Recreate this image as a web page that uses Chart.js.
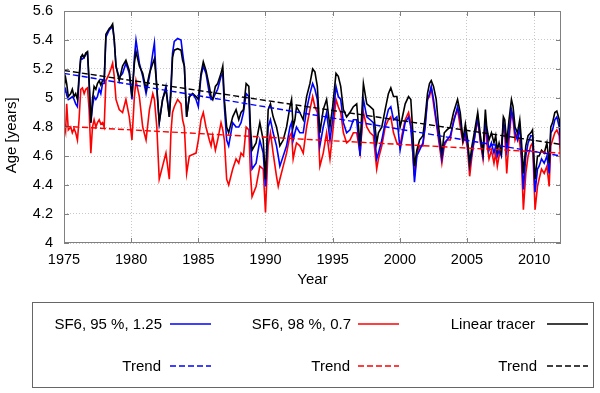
<!DOCTYPE html>
<html>
<head>
<meta charset="utf-8">
<title>Age trends</title>
<script src="https://cdn.jsdelivr.net/npm/chart.js@4"></script>
<style>
  html, body { margin: 0; padding: 0; background: #fff; }
  #wrap { position: relative; width: 600px; height: 393px; }
  #legend { position: absolute; left: 0; top: 0; pointer-events: none; }
  #legend text { font-family: "Liberation Sans", Arial, sans-serif; font-size: 15px; fill: #000; }
</style>
</head>
<body>
<div id="wrap">
  <canvas id="age-chart" width="600" height="393"></canvas>
  <svg id="legend" width="600" height="393">
    <rect x="32.5" y="302.5" width="561" height="85" fill="none" stroke="#666" stroke-width="1"/>
    <text x="162" y="329" text-anchor="end">SF6, 95 %, 1.25</text>
    <line x1="170" y1="324" x2="211" y2="324" stroke="#0000ff" stroke-width="1.5"/>
    <text x="351" y="329" text-anchor="end">SF6, 98 %, 0.7</text>
    <line x1="358" y1="324" x2="399" y2="324" stroke="#ff0000" stroke-width="1.5"/>
    <text x="535" y="329" text-anchor="end">Linear tracer</text>
    <line x1="547" y1="324" x2="588" y2="324" stroke="#000000" stroke-width="1.5"/>
    <text x="161" y="371" text-anchor="end">Trend</text>
    <line x1="170" y1="366" x2="211" y2="366" stroke="#0000ff" stroke-width="1.5" stroke-dasharray="6,3"/>
    <text x="350" y="371" text-anchor="end">Trend</text>
    <line x1="358" y1="366" x2="399" y2="366" stroke="#ff0000" stroke-width="1.5" stroke-dasharray="6,3"/>
    <text x="537" y="371" text-anchor="end">Trend</text>
    <line x1="547" y1="366" x2="588" y2="366" stroke="#000000" stroke-width="1.5" stroke-dasharray="6,3"/>
  </svg>
</div>
<script>
// sample times (years)
const years = [
  1975.00,1975.12,1975.20,1975.32,1975.50,1975.62,1975.75,1975.87,1976.00,1976.12,
  1976.25,1976.37,1976.50,1976.62,1976.75,1976.87,1977.00,1977.12,1977.24,1977.37,
  1977.49,1977.62,1977.74,1977.87,1977.99,1978.12,1978.37,1978.49,1978.62,1978.74,
  1978.87,1979.11,1979.36,1979.61,1979.86,1980.06,1980.24,1980.36,1980.61,1980.86,
  1981.11,1981.36,1981.61,1981.73,1981.91,
  1982.09,1982.34,1982.59,1982.84,1982.96,1983.08,1983.21,1983.46,1983.71,1983.83,
  1983.96,1984.13,1984.33,1984.58,1984.83,1985.00,1985.20,1985.37,1985.57,1985.82,
  1985.95,1986.07,1986.27,1986.44,1986.69,1986.82,1986.94,1987.11,1987.26,1987.56,
  1987.81,1988.01,1988.18,1988.36,1988.56,1988.76,1988.88,1989.00,1989.30,
  1989.58,1989.83,1990.00,1990.20,1990.37,1990.57,1990.82,1990.95,1991.07,1991.32,
  1991.57,1991.82,1991.94,1992.06,1992.19,1992.31,1992.56,1992.81,1993.06,1993.31,
  1993.51,1993.68,1993.86,1994.05,1994.30,1994.55,1994.80,1995.00,1995.25,1995.42,
  1995.60,1995.80,1996.04,1996.29,1996.54,1996.79,1997.04,1997.29,1997.54,1997.79,
  1998.03,1998.28,
  1998.41,1998.66,1998.91,1999.15,1999.33,1999.53,1999.78,1999.90,2000.02,2000.15,
  2000.40,2000.65,2000.82,2000.97,2001.09,2001.27,2001.47,2001.72,2001.89,2002.06,
  2002.21,2002.34,2002.51,2002.71,2002.89,2003.13,2003.31,2003.51,2003.76,2004.00,
  2004.30,2004.50,2004.70,2004.88,2005.05,2005.20,2005.37,2005.62,2005.80,2006.00,
  2006.19,2006.37,
  2006.47,2006.64,2006.82,2007.01,2007.14,2007.26,2007.39,2007.56,2007.71,2007.81,
  2007.96,2008.13,2008.31,2008.43,2008.58,2008.76,2008.93,2009.05,2009.20,2009.38,
  2009.55,2009.75,2009.88,2010.07,2010.25,2010.37,2010.55,2010.75,2010.95,2011.12,
  2011.24,2011.37,2011.54,2011.69,2011.87,2011.99
];

// Linear tracer (black)
const linearTracer = [
  5.07,5.14,5.10,5.01,5.03,5.06,5.01,5.03,4.99,5.15,
  5.28,5.30,5.28,5.31,5.32,5.12,4.83,4.99,5.08,5.06,
  5.10,5.12,5.09,5.12,5.12,5.44,5.48,5.49,5.51,5.40,
  5.22,5.12,5.22,5.26,5.19,5.01,5.24,5.32,5.22,5.17,
  5.06,5.17,5.24,5.27,5.08,
  4.83,4.99,5.06,4.87,5.03,5.28,5.33,5.34,5.33,5.26,
  5.22,4.87,5.01,5.03,5.01,4.99,5.17,5.25,5.19,5.08,
  5.01,4.99,5.08,5.10,5.17,5.22,4.99,4.80,4.76,4.87,
  4.92,4.85,4.90,4.92,5.10,5.08,4.80,4.64,4.69,
  4.83,4.71,4.44,4.92,4.96,4.87,4.80,4.74,4.67,4.71,
  4.80,4.94,4.99,4.80,4.85,4.94,4.90,4.85,5.01,5.10,
  5.20,5.18,5.08,4.76,4.92,4.99,4.80,4.94,5.17,5.15,
  5.08,4.92,4.87,4.90,4.94,4.96,4.67,5.10,4.96,4.94,
  4.92,4.69,
  4.76,4.80,4.92,5.03,5.07,5.01,5.01,4.92,4.80,4.85,
  4.96,5.01,4.99,4.76,4.53,4.64,4.71,4.74,4.87,5.03,
  5.10,5.12,5.08,4.99,4.80,4.62,4.76,4.78,4.80,4.90,
  4.99,4.90,4.71,4.82,4.71,4.55,4.67,4.80,4.90,4.74,
  4.62,4.92,
  4.80,4.71,4.76,4.69,4.74,4.64,4.69,4.62,4.87,4.85,
  4.69,4.85,4.99,4.94,4.80,4.76,4.85,4.71,4.48,4.67,
  4.74,4.76,4.78,4.44,4.60,4.60,4.64,4.62,4.69,4.55,
  4.80,4.83,4.90,4.91,4.85,4.71
];

// SF6, 95 %, 1.25 (blue)
const sf6_95 = [
  5.03,5.06,5.02,4.99,5.00,5.01,4.99,4.96,4.94,5.12,
  5.28,5.27,5.28,5.30,5.31,5.10,4.83,4.94,5.01,4.99,
  5.01,5.06,5.03,5.10,5.10,5.42,5.47,5.48,5.49,5.40,
  5.22,5.14,5.17,5.24,5.17,4.99,5.28,5.40,5.24,5.15,
  5.03,5.15,5.31,5.38,5.06,
  4.83,4.99,5.08,4.87,5.08,5.31,5.39,5.41,5.40,5.31,
  5.22,4.87,5.01,5.03,4.99,4.94,5.15,5.22,5.17,5.03,
  4.99,4.99,5.03,5.06,5.15,5.17,4.94,4.71,4.67,4.83,
  4.80,4.80,4.83,4.90,5.03,5.01,4.71,4.51,4.55,
  4.71,4.62,4.39,4.80,4.85,4.76,4.67,4.60,4.53,4.60,
  4.67,4.80,4.83,4.71,4.76,4.80,4.76,4.76,4.92,5.03,
  5.10,5.06,4.99,4.67,4.80,4.90,4.71,4.85,5.08,5.01,
  4.99,4.83,4.76,4.78,4.85,4.85,4.60,4.99,4.87,4.85,
  4.83,4.58,
  4.62,4.71,4.83,4.92,4.94,4.85,4.87,4.76,4.64,4.71,
  4.83,4.87,4.80,4.62,4.42,4.60,4.64,4.69,4.80,4.99,
  5.03,5.08,4.99,4.85,4.74,4.58,4.69,4.71,4.74,4.83,
  4.94,4.85,4.71,4.76,4.67,4.53,4.62,4.76,4.87,4.71,
  4.60,4.85,
  4.76,4.64,4.69,4.62,4.67,4.60,4.64,4.60,4.83,4.80,
  4.64,4.76,4.92,4.87,4.76,4.71,4.80,4.64,4.37,4.60,
  4.69,4.74,4.74,4.35,4.51,4.53,4.58,4.55,4.60,4.48,
  4.76,4.78,4.85,4.87,4.80,4.64
];

// SF6, 98 %, 0.7 (red)
const sf6_98 = [
  4.83,4.77,4.96,4.78,4.80,4.76,4.79,4.76,4.71,4.85,
  5.06,5.07,5.03,5.06,5.07,4.92,4.62,4.80,4.85,4.80,
  4.83,4.85,4.82,4.83,4.80,5.12,5.17,5.20,5.24,5.15,
  4.99,4.92,4.90,4.99,4.87,4.71,5.01,5.12,5.01,4.80,
  4.71,4.92,5.03,4.99,4.80,
  4.44,4.53,4.62,4.44,4.76,4.90,4.94,4.99,4.96,4.85,
  4.80,4.48,4.60,4.61,4.62,4.71,4.85,4.90,4.80,4.71,
  4.67,4.74,4.64,4.71,4.83,4.78,4.71,4.44,4.40,4.51,
  4.58,4.55,4.62,4.60,4.80,4.78,4.48,4.32,4.39,
  4.53,4.51,4.21,4.67,4.76,4.62,4.46,4.39,4.44,4.53,
  4.62,4.74,4.76,4.58,4.64,4.69,4.67,4.62,4.80,4.92,
  5.01,4.94,4.90,4.53,4.62,4.76,4.58,4.76,4.99,4.94,
  4.90,4.76,4.69,4.71,4.76,4.76,4.62,4.90,4.80,4.76,
  4.74,4.51,
  4.58,4.67,4.80,4.85,4.87,4.76,4.69,4.68,4.67,4.74,
  4.85,4.90,4.83,4.62,4.46,4.62,4.67,4.67,4.83,4.99,
  5.01,5.07,4.96,4.83,4.71,4.55,4.67,4.71,4.71,4.85,
  4.92,4.80,4.69,4.74,4.64,4.46,4.60,4.76,4.85,4.69,
  4.58,4.85,
  4.69,4.58,4.64,4.55,4.62,4.53,4.60,4.67,4.80,4.76,
  4.48,4.71,4.90,4.85,4.71,4.76,4.69,4.58,4.23,4.48,
  4.60,4.67,4.69,4.23,4.39,4.44,4.51,4.48,4.53,4.39,
  4.67,4.71,4.76,4.78,4.74,4.53
];

// linear trends, start and end values
const trendYears = [1975, 2012];
const trendLinear = [5.19, 4.68];
const trend95 = [5.17, 4.60];
const trend98 = [4.805, 4.62];

// axis ticks
const xTicks = [1975, 1980, 1985, 1990, 1995, 2000, 2005, 2010];
const yTicks = [4, 4.2, 4.4, 4.6, 4.8, 5, 5.2, 5.4, 5.6];

const toPoints = (xs, ys) => xs.map((x, i) => ({ x: x, y: ys[i] }));

// grey frame with small inward tick marks on all four sides
const framePlugin = {
  id: 'frame',
  afterDraw(chart) {
    const { ctx, chartArea: a, scales } = chart;
    ctx.save();
    ctx.strokeStyle = '#808080';
    ctx.lineWidth = 1;
    ctx.strokeRect(a.left + 0.5, a.top + 0.5, a.right - a.left - 1, a.bottom - a.top - 1);
    ctx.beginPath();
    xTicks.forEach(v => {
      const px = Math.round(scales.x.getPixelForValue(v)) + 0.5;
      ctx.moveTo(px, a.bottom); ctx.lineTo(px, a.bottom - 5);
      ctx.moveTo(px, a.top); ctx.lineTo(px, a.top + 5);
    });
    yTicks.forEach(v => {
      const py = Math.round(scales.y.getPixelForValue(v)) + 0.5;
      ctx.moveTo(a.left, py); ctx.lineTo(a.left + 5, py);
      ctx.moveTo(a.right, py); ctx.lineTo(a.right - 5, py);
    });
    ctx.stroke();
    ctx.restore();
  }
};

Chart.defaults.font.family = '"Liberation Sans", Arial, sans-serif';
Chart.defaults.font.size = 14.5;
Chart.defaults.color = '#000';

function lineSet(label, points, color, order, dashed) {
  return {
    label: label,
    data: points,
    borderColor: color,
    borderWidth: dashed ? 1.4 : 1.6,
    borderDash: dashed ? [6, 3] : [],
    pointRadius: 0,
    tension: 0,
    fill: false,
    order: order
  };
}

new Chart(document.getElementById('age-chart'), {
  type: 'line',
  data: {
    datasets: [
      lineSet('Trend linear', toPoints(trendYears, trendLinear), '#000000', -3, true),
      lineSet('Trend 95', toPoints(trendYears, trend95), '#0000ff', -2, true),
      lineSet('Trend 98', toPoints(trendYears, trend98), '#ff0000', -1, true),
      lineSet('Linear tracer', toPoints(years, linearTracer), '#000000', 0, false),
      lineSet('SF6, 95 %, 1.25', toPoints(years, sf6_95), '#0000ff', 1, false),
      lineSet('SF6, 98 %, 0.7', toPoints(years, sf6_98), '#ff0000', 2, false)
    ]
  },
  options: {
    responsive: false,
    animation: false,
    layout: { padding: { top: 11, right: 39, bottom: 96, left: 0 } },
    plugins: { legend: { display: false }, tooltip: { enabled: false } },
    scales: {
      x: {
        type: 'linear',
        min: 1975,
        max: 2012,
        afterBuildTicks: s => { s.ticks = xTicks.map(v => ({ value: v })); },
        afterFit: s => { s.height = 54; },
        ticks: { padding: 8, autoSkip: false, maxRotation: 0, callback: v => String(v) },
        grid: { color: '#c8c8c8', drawTicks: false, lineWidth: 1 },
        border: { display: false, dash: [1, 2] },
        title: { display: true, text: 'Year', font: { size: 15 }, padding: { top: 0, bottom: 8 } }
      },
      y: {
        min: 4,
        max: 5.6,
        afterBuildTicks: s => { s.ticks = yTicks.map(v => ({ value: v })); },
        // fixed width, and no extra room above/below for the end labels
        afterFit: s => { s.width = 64; s.paddingTop = 0; s.paddingBottom = 0; },
        ticks: { padding: 11, callback: v => String(v) },
        grid: { color: '#c8c8c8', drawTicks: false, lineWidth: 1 },
        border: { display: false, dash: [1, 2] },
        title: { display: true, text: 'Age [years]    ', font: { size: 15 }, padding: { top: 3, bottom: 0 } }
      }
    }
  },
  plugins: [framePlugin]
});
</script>
</body>
</html>
